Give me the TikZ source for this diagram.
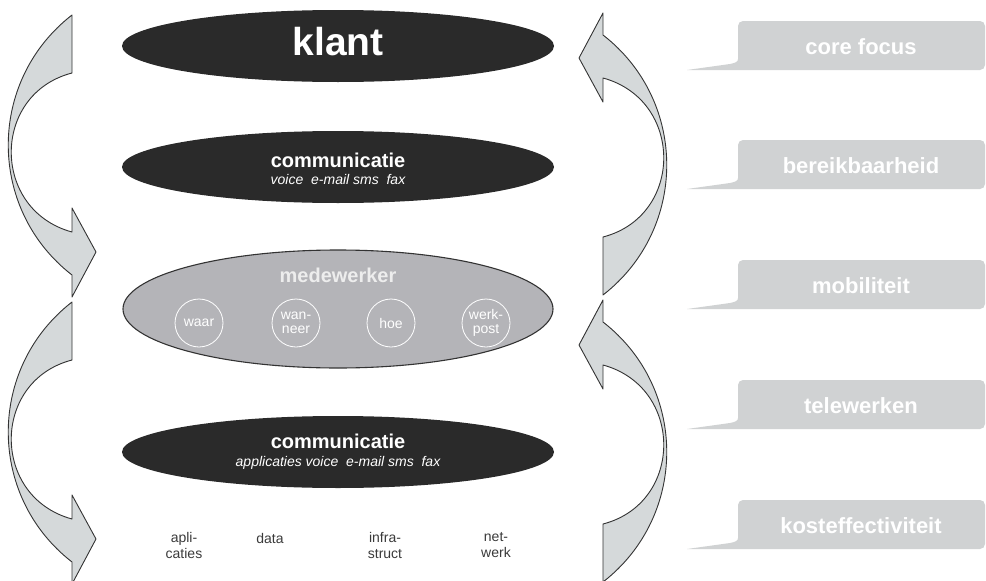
\documentclass[tikz,border=0pt]{standalone}
\usepackage{fontspec}
\setmainfont{Liberation Sans}
\usetikzlibrary{shapes.geometric}

\definecolor{ink}{HTML}{2A2A2A}
\definecolor{staffgray}{HTML}{B4B4B8}
\definecolor{bandfill}{HTML}{D5D9DA}
\definecolor{bandline}{HTML}{333333}
\definecolor{tagfill}{HTML}{D0D2D3}
\definecolor{smallink}{HTML}{3A3A3A}

% curved broad arrow: tail at the top, head pointing right at the bottom
\newcommand\bendpath{(72,15) .. controls (-13,81) and (-13,209) .. (72,275)
  -- (72,297) -- (96,252) -- (72,208) -- (72,232)
  .. controls (-9,210) and (-9,94) .. (72,73) -- cycle}

\tikzset{
  darkoval/.style={ellipse, minimum width=432pt, minimum height=72pt,
    inner sep=0pt, fill=ink},
  staffoval/.style={ellipse, minimum width=430pt, minimum height=118pt,
    inner sep=0pt, fill=staffgray, draw=bandline, line width=1.1pt},
  titletext/.style={text=white, font=\bfseries\fontsize{20}{22}\selectfont,
    inner sep=0pt, anchor=base},
  subtext/.style={text=white, font=\itshape\fontsize{14}{16}\selectfont,
    inner sep=0pt, anchor=base},
  ringnode/.style={circle, draw=white, line width=0.8pt, minimum size=48pt,
    inner sep=0pt, align=center, text=white,
    font=\fontsize{14}{14}\selectfont},
  basetext/.style={align=center, text=smallink, inner sep=0pt,
    font=\fontsize{14}{16}\selectfont},
  bandstyle/.style={fill=bandfill, draw=bandline, line width=0.9pt,
    line join=round},
  tagtext/.style={text=white, inner sep=0pt,
    font=\bfseries\fontsize{22}{24}\selectfont}
}

\begin{document}
\begin{tikzpicture}[x=1pt, y=-1pt]
\useasboundingbox (0,0) rectangle (986,581);

% curved arrows on the left (downwards) and right (upwards)
\draw[bandstyle] \bendpath;
\begin{scope}[yshift=-287pt]
  \draw[bandstyle] \bendpath;
\end{scope}
\begin{scope}[xshift=675pt, yshift=-310pt, scale=-1]
  \draw[bandstyle] \bendpath;
\end{scope}
\begin{scope}[xshift=675pt, yshift=-597pt, scale=-1]
  \draw[bandstyle] \bendpath;
\end{scope}

% layers
\node[darkoval] (klant) at (338,46) {};
\node[text=white, inner sep=0pt, anchor=base,
      font=\bfseries\fontsize{39}{40}\selectfont] (klanttxt) at (338,55) {klant};

\node[darkoval] (comm1) at (338,167) {};
\node[titletext] (comm1t) at (338,167) {communicatie};
\node[subtext] (comm1s) at (338,184) {voice\ \ e-mail sms\ \ fax};

\node[staffoval] (medew) at (338,309) {};
\node[titletext, text=white!93!black] (medewt) at (338,282) {medewerker};
\node[ringnode] (waar) at (199,323) {waar};
\node[ringnode] (wanneer) at (296,323) {wan-\\neer};
\node[ringnode] (hoe) at (391,323) {hoe};
\node[ringnode] (werkpost) at (486,323) {werk-\\post};

\node[darkoval] (comm2) at (338,452) {};
\node[titletext] (comm2t) at (338,448) {communicatie};
\node[subtext] (comm2s) at (338,466) {applicaties voice\ \ e-mail sms\ \ fax};

% base layer labels
\node[basetext] (aplicaties) at (184,545) {apli-\\caties};
\node[basetext] (data) at (270,538) {data};
\node[basetext] (infra) at (385,545) {infra-\\struct};
\node[basetext] (netwerk) at (496,545) {net-\\werk};

% tabs on the right
\foreach \i/\c/\t in {1/46/core focus, 2/165/bereikbaarheid, 3/285/mobiliteit,
                      4/405/telewerken, 5/525/kosteffectiviteit} {
  \fill[tagfill] (687,\c+24) -- (980,\c+24)
    [rounded corners=5pt] -- (985,\c+24) -- (985,\c-25) -- (738,\c-25)
    [sharp corners] -- (738,\c+13)
    .. controls (738,\c+16) and (735,\c+17) .. (730,\c+18) -- cycle;
  \node[tagtext] (tag\i) at (861,\c+1) {\t};
}
\end{tikzpicture}
\end{document}
